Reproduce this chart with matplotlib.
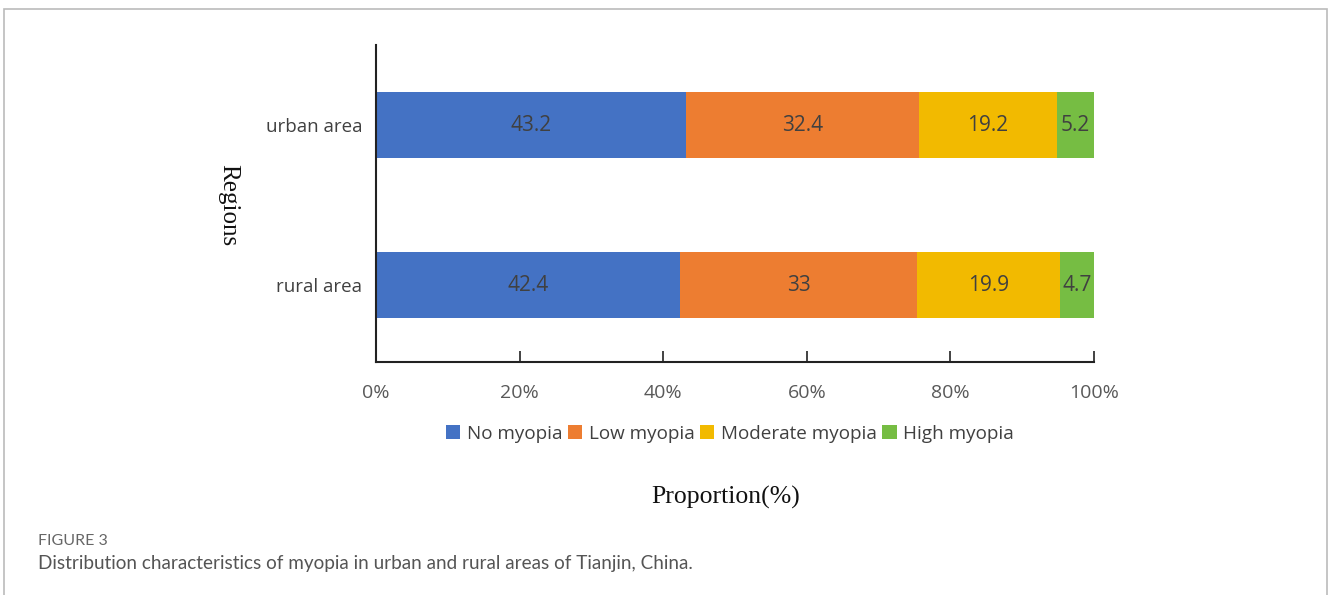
import numpy as np
import matplotlib
matplotlib.use("Agg")
import matplotlib.pyplot as plt
from matplotlib.patches import Rectangle

regions = ["rural area", "urban area"]
categories = ["No myopia", "Low myopia", "Moderate myopia", "High myopia"]
no_myopia = [42.4, 43.2]
low_myopia = [33, 32.4]
moderate_myopia = [19.9, 19.2]
high_myopia = [4.7, 5.2]
colors = ["#4472C4", "#ED7D31", "#F2BA00", "#76BD43"]

series = [no_myopia, low_myopia, moderate_myopia, high_myopia]

fig = plt.figure(figsize=(13.28, 5.95), dpi=100)
ax = fig.add_axes([376 / 1328, 1 - 362 / 595, (1094 - 376) / 1328, (362 - 45) / 595])

ypos = np.arange(len(regions))
left = np.zeros(len(regions))
for name, vals, col in zip(categories, series, colors):
    vals = np.array(vals, dtype=float)
    ax.barh(ypos, vals, left=left, height=0.41, color=col, label=name)
    for y, l, v in zip(ypos, left, vals):
        ax.text(l + v / 2, y, f"{v:g}", ha="center", va="center",
                fontsize=15, color="#404040", family="Open Sans")
    left += vals

ax.set_xlim(0, 100)
ax.set_ylim(-0.48, 1.5)
ax.set_xticks([0, 20, 40, 60, 80, 100])
ax.set_xticklabels(["0%", "20%", "40%", "60%", "80%", "100%"])
ax.set_yticks(ypos)
ax.set_yticklabels(regions)
ax.tick_params(axis="x", direction="in", length=8, width=1.2, pad=16,
               labelsize=14, labelcolor="#595959", color="#222222")
ax.tick_params(axis="y", length=0, pad=10, labelsize=13.5, labelcolor="#404040")
for lab in ax.get_xticklabels() + ax.get_yticklabels():
    lab.set_family("Open Sans")
for side in ["top", "right"]:
    ax.spines[side].set_visible(False)
for side in ["left", "bottom"]:
    ax.spines[side].set_linewidth(1.5)
    ax.spines[side].set_color("#222222")

handles, labels = ax.get_legend_handles_labels()
fig.legend(handles, labels, loc="center", bbox_to_anchor=(730 / 1328, 1 - 434 / 595),
           ncol=4, frameon=False, handlelength=0.75, handleheight=0.75,
           handletextpad=0.35, columnspacing=0.3,
           prop={"family": "Open Sans", "size": 13.6}, labelcolor="#404040")

fig.text(228 / 1328, 1 - 205 / 595, "Regions", rotation=-90, ha="center", va="center",
         family="Liberation Serif", fontsize=18, color="#111111")
fig.text(726 / 1328, 1 - 497 / 595, "Proportion(%)", ha="center", va="center",
         family="Liberation Serif", fontsize=18.5, color="#111111")

fig.text(38 / 1328, 1 - 541 / 595, "FIGURE 3", ha="left", va="center",
         family="Lato", fontsize=11.5, color="#666666")
fig.text(38 / 1328, 1 - 563 / 595,
         "Distribution characteristics of myopia in urban and rural areas of Tianjin, China.",
         ha="left", va="center", family="Lato", fontsize=13.6, color="#555555")

fig.add_artist(Rectangle((4 / 1328, -0.05), (1327 - 4) / 1328, 1.05 - 9.5 / 595,
                         transform=fig.transFigure, fill=False,
                         edgecolor="#bbbbbb", linewidth=1.2))

fig.savefig("out.png", dpi=100)
